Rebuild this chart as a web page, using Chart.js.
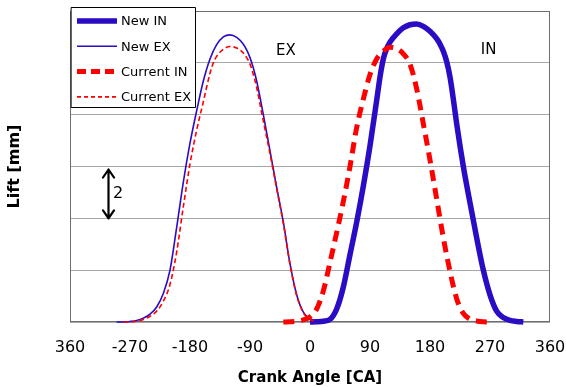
<!DOCTYPE html>
<html>
<head>
<meta charset="utf-8">
<script src="https://cdn.jsdelivr.net/npm/chart.js@4.4.1/dist/chart.umd.min.js"></script>
<style>
  html, body { margin: 0; padding: 0; background: #fff; }
  canvas { display: block; }
</style>
</head>
<body>
<canvas id="lift" width="566" height="387"></canvas>
<script>
// Crank angle axis
const xTickValues = [-360, -270, -180, -90, 0, 90, 180, 270, 360];
const xTickLabels = ['360', '-270', '-180', '-90', '0', '90', '180', '270', '360'];

// New intake valve lift [mm]
const newInAngle = [0, 10, 20, 30, 40, 50, 60, 70, 80, 90, 100, 105, 110, 115, 120, 130, 140, 150, 160,
  170, 180, 190, 195, 200, 205, 210, 215, 220, 230, 240, 250, 260, 270, 280, 290, 300, 310, 320];
const newInLift = [0, 0.01, 0.03, 0.1, 0.5, 1.35, 2.6, 3.85, 5.25, 6.8, 8.55, 9.45, 10.15, 10.55, 10.8, 11.12, 11.35, 11.47, 11.5,
  11.41, 11.22, 10.93, 10.72, 10.45, 10.05, 9.45, 8.6, 7.65, 6.0, 4.6, 3.25, 2.0, 1.05, 0.42, 0.17, 0.06, 0.02, 0];

// New exhaust valve lift [mm]
const newExAngle = [-290, -280, -270, -260, -250, -240, -230, -220, -210, -200, -190, -180, -170, -160, -150, -140,
  -130, -120, -110, -100, -95, -90, -85, -80, -70, -60, -50, -40, -30, -20, -10, 0, 10, 20];
const newExLift = [0, 0, 0.02, 0.06, 0.15, 0.3, 0.58, 1.1, 2.0, 3.65, 5.4, 6.9, 8.15, 9.3, 10.15, 10.7,
  11.0, 11.08, 10.98, 10.72, 10.5, 10.2, 9.8, 9.3, 8.0, 6.6, 5.2, 3.85, 2.25, 1.05, 0.38, 0.12, 0.03, 0];

// Current intake valve lift [mm]
const curInAngle = [-40, -30, -20, -10, 0, 10, 20, 30, 40, 50, 60, 70, 80, 90, 100, 110,
  120, 130, 140, 150, 160, 170, 180, 190, 200, 210, 220, 230, 240, 250, 260, 270];
const curInLift = [0, 0.01, 0.03, 0.08, 0.2, 0.5, 1.2, 2.3, 3.45, 4.65, 6.0, 7.5, 8.6, 9.55, 10.15, 10.45,
  10.6, 10.55, 10.35, 9.95, 9.0, 7.65, 6.25, 4.75, 3.25, 1.95, 0.9, 0.33, 0.11, 0.04, 0.01, 0];

// Current exhaust valve lift [mm]
const curExAngle = [-280, -270, -260, -250, -240, -230, -220, -210, -200, -190, -180, -170, -160, -150, -145, -140,
  -130, -120, -110, -100, -95, -90, -85, -80, -70, -60, -50, -40, -30, -20, -10, 0, 10];
const curExLift = [0, 0, 0.03, 0.1, 0.22, 0.42, 0.8, 1.45, 2.7, 4.45, 6.1, 7.4, 8.5, 9.6, 10.0, 10.25,
  10.52, 10.63, 10.57, 10.38, 10.2, 9.95, 9.55, 9.05, 7.75, 6.5, 5.15, 3.8, 2.22, 1.02, 0.36, 0.1, 0];

const BLUE = '#2B0BC4';
const RED = '#FF0000';
const FONT = '"DejaVu Sans", Verdana, sans-serif';

const toPoints = (xs, ys) => xs.map((x, i) => ({ x, y: ys[i] }));

const series = [
  { label: 'New IN', data: toPoints(newInAngle, newInLift), borderColor: BLUE, borderWidth: 5.5, borderDash: [], order: 3 },
  { label: 'New EX', data: toPoints(newExAngle, newExLift), borderColor: BLUE, borderWidth: 1.6, borderDash: [], order: 2 },
  { label: 'Current IN', data: toPoints(curInAngle, curInLift), borderColor: RED, borderWidth: 5, borderDash: [11, 7], order: 0 },
  { label: 'Current EX', data: toPoints(curExAngle, curExLift), borderColor: RED, borderWidth: 1.6, borderDash: [5, 3], order: 1 }
];

// Frame, in-plot labels, scale arrow and boxed legend
const decorations = {
  id: 'decorations',
  beforeDatasetsDraw(chart) {
    const { ctx, chartArea: a } = chart;
    ctx.save();
    ctx.strokeStyle = '#6e6e6e';
    ctx.lineWidth = 1;
    ctx.strokeRect(Math.round(a.left) + 0.5, Math.round(a.top) + 0.5,
      Math.round(a.right - a.left) - 1, Math.round(a.bottom - a.top) - 1);
    ctx.restore();
  },
  afterDraw(chart) {
    const { ctx, chartArea: a, scales: { x, y } } = chart;
    ctx.save();

    // phase labels
    ctx.fillStyle = '#000';
    ctx.font = '15px ' + FONT;
    ctx.textAlign = 'center';
    ctx.textBaseline = 'middle';
    ctx.fillText('EX', x.getPixelForValue(-36), y.getPixelForValue(10.45));
    ctx.fillText('IN', x.getPixelForValue(268), y.getPixelForValue(10.5));

    // 2 mm scale arrow
    const ax = Math.round(x.getPixelForValue(-303)) + 0.5;
    const yTop = y.getPixelForValue(6) + 3;
    const yBot = y.getPixelForValue(4);
    ctx.strokeStyle = '#000';
    ctx.lineWidth = 2.2;
    ctx.lineCap = 'round';
    ctx.lineJoin = 'round';
    ctx.beginPath();
    ctx.moveTo(ax, yTop);
    ctx.lineTo(ax, yBot);
    ctx.moveTo(ax - 5.5, yTop + 8);
    ctx.lineTo(ax, yTop);
    ctx.lineTo(ax + 5.5, yTop + 8);
    ctx.moveTo(ax - 5.5, yBot - 8);
    ctx.lineTo(ax, yBot);
    ctx.lineTo(ax + 5.5, yBot - 8);
    ctx.stroke();
    ctx.font = '16px ' + FONT;
    ctx.textAlign = 'left';
    ctx.fillText('2', ax + 4.5, (yTop + yBot) / 2);

    // legend box
    const lx = Math.round(a.left) + 1, ly = Math.round(a.top) - 4;
    const lw = 125, lh = 101;
    ctx.fillStyle = '#fff';
    ctx.fillRect(lx, ly, lw, lh);
    ctx.strokeStyle = '#000';
    ctx.lineWidth = 1;
    ctx.strokeRect(lx + 0.5, ly + 0.5, lw - 1, lh - 1);
    ctx.font = '13px ' + FONT;
    ctx.textBaseline = 'middle';
    ctx.lineCap = 'butt';
    const dashes = [[], [], [9, 5], [4, 3]];
    chart.data.datasets.forEach((ds, i) => {
      const rowY = ly + 14 + i * 25.3;
      ctx.strokeStyle = ds.borderColor;
      ctx.lineWidth = ds.borderWidth;
      ctx.setLineDash(dashes[i]);
      ctx.beginPath();
      ctx.moveTo(lx + 6, rowY);
      ctx.lineTo(lx + 46, rowY);
      ctx.stroke();
      ctx.setLineDash([]);
      ctx.fillStyle = '#000';
      ctx.fillText(ds.label, lx + 50, rowY + 1);
    });
    ctx.restore();
  }
};

Chart.defaults.color = '#000';
Chart.defaults.font.family = FONT;

new Chart(document.getElementById('lift'), {
  type: 'line',
  data: {
    datasets: series.map(s => ({
      ...s,
      fill: false,
      pointRadius: 0,
      pointHoverRadius: 0,
      cubicInterpolationMode: 'monotone',
      clip: false
    }))
  },
  options: {
    responsive: false,
    animation: false,
    devicePixelRatio: 1,
    events: [],
    layout: { padding: { left: 0, right: 16, top: 11, bottom: 0 } },
    plugins: { legend: { display: false }, tooltip: { enabled: false } },
    scales: {
      x: {
        type: 'linear',
        min: -360,
        max: 360,
        afterBuildTicks: scale => { scale.ticks = xTickValues.map(v => ({ value: v })); },
        afterFit: scale => {
          scale.height = 65;
          scale.paddingLeft = 0;
          scale.paddingRight = 0;
        },
        ticks: {
          font: { size: 16 },
          padding: 16,
          maxRotation: 0,
          autoSkip: false,
          callback: v => xTickLabels[xTickValues.indexOf(v)]
        },
        grid: { display: false, drawTicks: false },
        border: { display: false },
        title: {
          display: true,
          text: 'Crank Angle [CA]',
          font: { size: 15, weight: 'bold' },
          padding: { top: 0, bottom: 0 }
        }
      },
      y: {
        min: 0,
        max: 12,
        afterFit: scale => { scale.width = 70; },
        ticks: { display: false, stepSize: 2 },
        grid: { color: '#a8a8a8', lineWidth: 1, drawTicks: false },
        border: { display: false },
        title: {
          display: true,
          text: 'Lift [mm]',
          font: { size: 16, weight: 'bold' },
          padding: { top: 5, bottom: 0 }
        }
      }
    }
  },
  plugins: [decorations]
});
</script>
</body>
</html>
